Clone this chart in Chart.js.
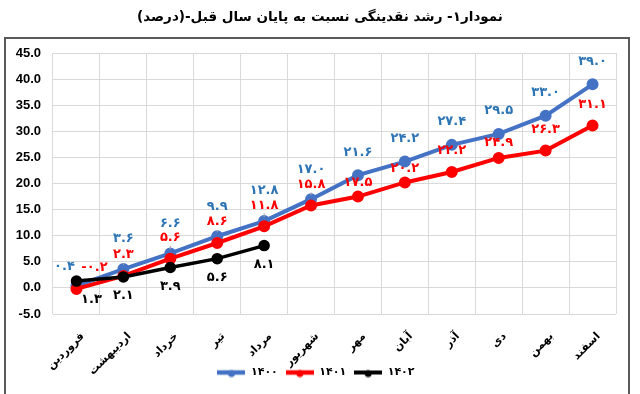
<!DOCTYPE html>
<html>
<head>
<meta charset="utf-8">
<script src="https://cdn.jsdelivr.net/npm/chart.js@4.4.0/dist/chart.umd.min.js"></script>
<style>
  body { margin: 0; background: #fff; }
  #wrap { position: relative; width: 640px; height: 394px; overflow: hidden; }
  #title { position: absolute; top: 8px; left: 0; width: 640px; text-align: center; font: bold 13.5px "DejaVu Sans"; color: #000; }
</style>
</head>
<body>
<div id="wrap">
  <canvas id="chart" width="640" height="394"></canvas>
  <div id="title" dir="rtl">نمودار۱- رشد نقدینگی نسبت به پایان سال قبل-(درصد)</div>
</div>
<script>
const months = ['فروردین', 'اردیبهشت', 'خرداد', 'تیر', 'مرداد', 'شهریور', 'مهر', 'آبان', 'آذر', 'دی', 'بهمن', 'اسفند'];
const seriesNames = ['۱۴۰۰', '۱۴۰۱', '۱۴۰۲'];
const values1400 = [0.4, 3.6, 6.6, 9.9, 12.8, 17.0, 21.6, 24.2, 27.4, 29.5, 33.0, 39.0];
const values1401 = [-0.2, 2.3, 5.6, 8.6, 11.8, 15.8, 17.5, 20.2, 22.2, 24.9, 26.3, 31.1];
const values1402 = [1.3, 2.1, 3.9, 5.6, 8.1];
const yTicks = [-5, 0, 5, 10, 15, 20, 25, 30, 35, 40, 45];

function toFa(v) {
    return v.toFixed(1).replace(/[0-9]/g, d => '۰۱۲۳۴۵۶۷۸۹'[d]);
}

function legendMarker(color, w) {
    let c = document.createElement('canvas');
    c.width = 28;
    c.height = 10;
    let g = c.getContext('2d');
    g.strokeStyle = color;
    g.lineWidth = w;
    g.beginPath();
    g.moveTo(0, 5);
    g.lineTo(28, 5);
    g.stroke();
    g.fillStyle = color;
    g.beginPath();
    g.arc(14, 6, 3.5, 0, Math.PI * 2);
    g.fill();
    return c;
}

const framePlugin = {
    id: 'frame',
    beforeDraw(chart) {
        let ctx = chart.ctx;
        ctx.save();
        ctx.fillStyle = '#fff';
        ctx.fillRect(0, 0, chart.width, chart.height);
        ctx.strokeStyle = '#595959';
        ctx.lineWidth = 2;
        ctx.strokeRect(5, 38, 624, 380);
        ctx.restore();
    },
    afterLayout(chart) {
        // let the rotated month names run below the x scale box without clipping
        chart.scales.x.bottom = chart.height;
        // legend sits a little right of the plot centre
        chart.legend.left += 8;
        chart.legend.right += 8;
    }
};

// value labels: blue above, red above its point but under the blue line, black below
const valueLabels = {
    id: 'valueLabels',
    afterDatasetsDraw(chart) {
        let ctx = chart.ctx;
        let blue = chart.getDatasetMeta(0).data;
        let red = chart.getDatasetMeta(1).data;
        ctx.save();
        ctx.font = 'bold 13px "DejaVu Sans"';
        ctx.textAlign = 'center';
        ctx.textBaseline = 'middle';
        chart.data.datasets.forEach((ds, i) => {
            let meta = chart.getDatasetMeta(i);
            meta.data.forEach((pt, j) => {
                let gap = red[j].y - blue[j].y;
                let dx = j === 0 ? ds.labelFirstDx : 0;
                let dy = ds.labelDy;
                if (i === 0) {
                    dy = j === 0 ? -19 : (gap < 10 ? -30 : -23);
                } else if (i === 1 && gap > 15 && gap < 26) {
                    dy = -gap * 0.65;
                }
                // thin leader from a stacked red label down to the blue point
                if (i === 1 && j > 0 && gap < 10) {
                    let y0 = pt.y + dy + 8;
                    let y1 = blue[j].y - 4;
                    if (y1 - y0 > 1) {
                        ctx.strokeStyle = '#a6a6a6';
                        ctx.lineWidth = 1;
                        ctx.beginPath();
                        ctx.moveTo(pt.x, y0);
                        ctx.lineTo(pt.x, y1);
                        ctx.stroke();
                    }
                }
                ctx.fillStyle = ds.labelColor;
                ctx.fillText(toFa(ds.data[j]), pt.x + dx, pt.y + dy);
            });
        });
        ctx.restore();
    }
};

const colors = ['#4472C4', '#FF0000', '#000000'];
const markers = [legendMarker(colors[0], 4.5), legendMarker(colors[1], 4.5), legendMarker(colors[2], 4)];

new Chart(document.getElementById('chart').getContext('2d'), {
    type: 'line',
    data: {
        labels: months,
        datasets: [{
            label: seriesNames[0],
            data: values1400,
            borderColor: colors[0],
            backgroundColor: colors[0],
            borderWidth: 4,
            pointRadius: 4,
            order: 2,
            labelColor: '#2E75B6',
            labelDy: -26,
            labelFirstDx: -12
        }, {
            label: seriesNames[1],
            data: values1401,
            borderColor: colors[1],
            backgroundColor: colors[1],
            borderWidth: 4,
            pointRadius: 4,
            order: 1,
            labelColor: '#FF0000',
            labelDy: -21,
            labelFirstDx: 18
        }, {
            label: seriesNames[2],
            data: values1402,
            borderColor: colors[2],
            backgroundColor: colors[2],
            borderWidth: 3.5,
            pointRadius: 4,
            order: 0,
            labelColor: '#000000',
            labelDy: 19,
            labelFirstDx: 15
        }]
    },
    options: {
        responsive: false,
        animation: false,
        layout: { padding: { top: 53, right: 24, left: 0, bottom: 6 } },
        elements: { line: { tension: 0 } },
        plugins: {
            title: { display: false },
            tooltip: { enabled: false },
            legend: {
                position: 'bottom',
                labels: {
                    usePointStyle: true,
                    pointStyleWidth: 28,
                    padding: 8,
                    color: '#000',
                    font: { family: 'DejaVu Sans', size: 11, weight: 'bold' },
                    generateLabels(chart) {
                        let items = Chart.defaults.plugins.legend.labels.generateLabels(chart);
                        items.sort((a, b) => a.datasetIndex - b.datasetIndex);
                        items.forEach(it => {
                            it.pointStyle = markers[it.datasetIndex];
                            it.rotation = 0;
                        });
                        return items;
                    }
                }
            }
        },
        scales: {
            x: {
                offset: true,
                grid: { offset: true, color: '#d9d9d9', drawTicks: false },
                border: { display: false },
                ticks: {
                    autoSkip: false,
                    minRotation: 45,
                    maxRotation: 45,
                    padding: 16,
                    labelOffset: 6,
                    color: '#000',
                    font: { family: 'DejaVu Sans', size: 11, weight: 'bold' }
                },
                afterFit(scale) { scale.height = 45; }
            },
            y: {
                min: -5,
                max: 45,
                afterBuildTicks(scale) { scale.ticks = yTicks.map(v => ({ value: v })); },
                grid: { color: '#d9d9d9', drawTicks: false },
                border: { display: false },
                ticks: {
                    padding: 12,
                    color: '#000',
                    font: { family: 'Liberation Sans', size: 13, weight: 'bold' },
                    callback: v => v.toFixed(1)
                },
                afterFit(scale) { scale.width = 53; }
            }
        }
    },
    plugins: [framePlugin, valueLabels]
});
</script>
</body>
</html>
